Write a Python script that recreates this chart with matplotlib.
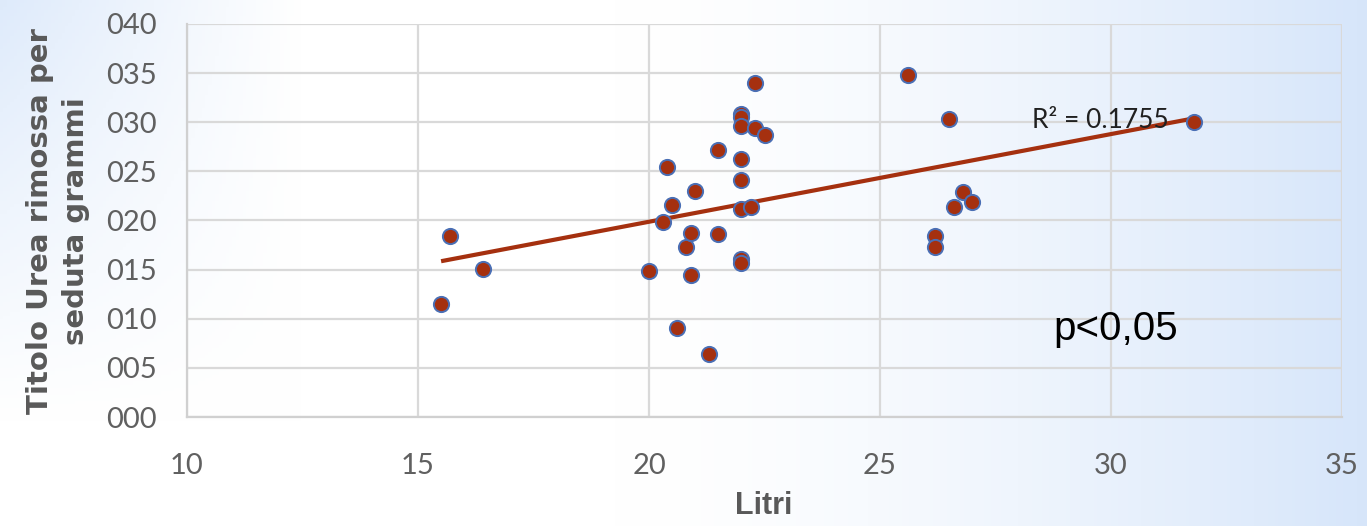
import numpy as np
import matplotlib.pyplot as plt
from matplotlib import font_manager

# data
litri = [15.5, 15.7, 16.4,
         20.0, 20.3, 20.4, 20.5, 20.6, 20.8, 20.9, 20.9, 21.0, 21.3, 21.5, 21.5,
         22.0, 22.0, 22.0, 22.0, 22.0, 22.0, 22.0, 22.0, 22.2, 22.3, 22.3, 22.5,
         25.6, 26.2, 26.2, 26.5, 26.6, 26.8, 27.0, 31.8]
urea = [11.5, 18.4, 15.1,
        14.9, 19.8, 25.4, 21.6, 9.1, 17.3, 18.7, 14.5, 23.0, 6.4, 27.2, 18.6,
        30.8, 30.5, 29.6, 26.3, 24.1, 21.2, 16.1, 15.7, 21.4, 34.0, 29.4, 28.7,
        34.8, 18.4, 17.3, 30.3, 21.4, 22.9, 21.9, 30.0]
x_ticks = [10, 15, 20, 25, 30, 35]
y_ticks = [0, 5, 10, 15, 20, 25, 30, 35, 40]
r2_label = "R² = 0.1755"
p_label = "p<0,05"

installed = {f.name for f in font_manager.fontManager.ttflist}
narrow = "Liberation Sans Narrow" if "Liberation Sans Narrow" in installed else "Liberation Sans"
tick_font = "Lato"
grey = "#595959"
red = "#a5300f"

W, H = 1367, 526
fig = plt.figure(figsize=(W / 100, H / 100), dpi=100)

# background gradient: white in the middle-left, light blue towards the edges
bg = fig.add_axes([0, 0, 1, 1], zorder=-10)
gx, gy = np.meshgrid(np.linspace(0, 1, 400), np.linspace(0, 1, 160))
right = np.clip((gx - 0.45) / 0.55, 0, 1) ** 1.5
left = np.clip((0.22 - gx) / 0.22, 0, 1) * np.clip((gy - 0.2) / 0.8, 0, 1) * 0.8
t = np.clip(right + left, 0, 1)
white = np.array([1.0, 1.0, 1.0])
blue = np.array([0.84, 0.90, 0.98])
img = white * (1 - t[..., None]) + blue * t[..., None]
bg.imshow(img, origin="lower", aspect="auto", extent=[0, 1, 0, 1])
bg.axis("off")

ax = fig.add_axes([187 / W, (H - 417) / H, (1342 - 187) / W, (417 - 24) / H])
ax.patch.set_alpha(0)

ax.set_xlim(10, 35)
ax.set_ylim(0, 40)
ax.set_xticks(x_ticks)
ax.set_yticks(y_ticks)
ax.set_yticklabels([f"{v:03d}" for v in y_ticks])
ax.grid(True, color="#d9d9d9", linewidth=1.6)
ax.set_axisbelow(True)
for side in ["top", "right"]:
    ax.spines[side].set_visible(False)
for side in ["left", "bottom"]:
    ax.spines[side].set_color("#d0d0d0")
    ax.spines[side].set_linewidth(1.6)
ax.tick_params(length=0, labelsize=21, labelcolor="#606060")
ax.tick_params(axis="y", pad=22)
ax.tick_params(axis="x", pad=26)
for lbl in ax.get_xticklabels() + ax.get_yticklabels():
    lbl.set_fontfamily(tick_font)

# linear trendline across the data range
coef = np.polyfit(litri, urea, 1)
xs = np.array([min(litri), max(litri)])
ax.plot(xs, np.polyval(coef, xs), color=red, linewidth=3, zorder=3,
        solid_capstyle="butt")

ax.scatter(litri, urea, s=120, color=red, edgecolors="#4a6fb5",
           linewidths=1.4, zorder=4)

ax.text(28.28, 30.2, r2_label, fontsize=19, family=tick_font,
        va="center", ha="left", color="#202020", zorder=5)
ax.text(28.75, 9.0, p_label, fontsize=29, family=narrow,
        va="center", ha="left", color="black", zorder=5)

fig.text(764 / W, 1 - 506 / H, "Litri", fontsize=22, fontweight="bold",
         family=narrow, color=grey, ha="center", va="center")
fig.text(58 / W, 1 - 221 / H, "Titolo Urea rimossa per\nseduta grammi",
         fontsize=21, fontweight="bold", color=grey, rotation=90,
         ha="center", va="center", multialignment="center",
         linespacing=1.35)

fig.savefig("out.png", dpi=100)
